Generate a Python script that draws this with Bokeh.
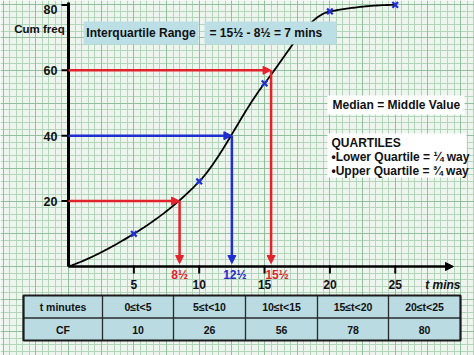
import numpy as np
from bokeh.plotting import figure
from bokeh.models import Grid, SingleIntervalTicker, Arrow, NormalHead
from bokeh.core.properties import value
from bokeh.embed import file_html
from bokeh.resources import INLINE

# ---------------- data ----------------
t_upper = [0, 5, 10, 15, 20, 25]
cum_freq = [0, 10, 26, 56, 78, 80]
classes = ["0≤t<5", "5≤t<10", "10≤t<15", "15≤t<20", "20≤t<25"]
cf_values = [10, 26, 56, 78, 80]
q_cf = [20, 40, 60]
q_t = [8.5, 12.5, 15.5]
q_labels = ["8½", "12½", "15½"]
x_ticks = [5, 10, 15, 20, 25]
y_ticks = [20, 40, 60, 80]

# ---------------- style ----------------
BG = "#eef5ef"
MINOR = "#b3d5ba"
MAJOR = "#92bf9d"
RED = "#e3232b"
BLUE = "#1f2ecf"
BOXBLUE = "#bcdfe5"
TABLEBLUE = "#b9dbe1"
FONT = value("Liberation Sans")

OX, OY = 68.0, 266.0
PX_T, PX_CF = 13.07, 3.27


def tx(px):
    return (px - OX) / PX_T


def cy(py):
    return (OY - py) / PX_CF


W, H = 474, 355
p = figure(width=W, height=H, x_range=(tx(0), tx(W)), y_range=(cy(H), cy(0)),
           output_backend="svg", toolbar_location=None,
           x_axis_location=None, y_axis_location=None, min_border=0,
           background_fill_color=BG, border_fill_color=BG, outline_line_color=None)
p.grid.visible = False

# graph paper
for dim, iv, col, lw in [(0, 0.5, MINOR, 1), (1, 2, MINOR, 1), (0, 2.5, MAJOR, 1), (1, 10, MAJOR, 1)]:
    g = Grid(dimension=dim, ticker=SingleIntervalTicker(interval=iv, num_minor_ticks=0),
             grid_line_color=col, grid_line_width=lw)
    p.add_layout(g)

# ---------------- curve (monotone cubic through the points) ----------------
x = np.array(t_upper, float)
y = np.array(cum_freq, float)
h = np.diff(x)
d = np.diff(y) / h
n = len(x)
m = np.zeros(n)
for k in range(1, n - 1):
    if d[k - 1] * d[k] > 0:
        w1 = 2 * h[k] + h[k - 1]
        w2 = h[k] + 2 * h[k - 1]
        m[k] = (w1 + w2) / (w1 / d[k - 1] + w2 / d[k])


def endslope(h0, h1, d0, d1):
    s = ((2 * h0 + h1) * d0 - h0 * d1) / (h0 + h1)
    if np.sign(s) != np.sign(d0):
        s = 0.0
    elif np.sign(d0) != np.sign(d1) and abs(s) > abs(3 * d0):
        s = 3 * d0
    return s


m[0] = endslope(h[0], h[1], d[0], d[1])
m[-1] = endslope(h[-1], h[-2], d[-1], d[-2])
xs, ys = [], []
for k in range(n - 1):
    tt = np.linspace(0, 1, 40)
    h00 = 2 * tt**3 - 3 * tt**2 + 1
    h10 = tt**3 - 2 * tt**2 + tt
    h01 = -2 * tt**3 + 3 * tt**2
    h11 = tt**3 - tt**2
    xs.extend(x[k] + tt * h[k])
    ys.extend(h00 * y[k] + h10 * h[k] * m[k] + h01 * y[k + 1] + h11 * h[k] * m[k + 1])
p.line(xs, ys, line_color="black", line_width=1.8)

# quartile arrows
for c, t, col in zip(q_cf, q_t, [RED, BLUE, RED]):
    p.add_layout(Arrow(x_start=0, y_start=c, x_end=t, y_end=c, line_color=col, line_width=2.5,
                       end=NormalHead(size=8, fill_color=col, line_color=col)))
    p.add_layout(Arrow(x_start=t, y_start=c, x_end=t, y_end=cy(263), line_color=col, line_width=2.5,
                       end=NormalHead(size=8, fill_color=col, line_color=col)))

# points
p.scatter(t_upper[1:], cum_freq[1:], marker="x", size=8, line_color=BLUE, line_width=2.2)

# ---------------- axes ----------------
p.add_layout(Arrow(x_start=0, y_start=0, x_end=tx(453), y_end=0, line_color="black", line_width=2.5,
                   end=NormalHead(size=8, fill_color="black", line_color="black")))
p.segment(x0=[0], y0=[0], x1=[0], y1=[cy(2)], line_color="black", line_width=3)
p.segment(x0=x_ticks, y0=[cy(265)] * len(x_ticks), x1=x_ticks, y1=[cy(273)] * len(x_ticks),
          line_color="black", line_width=2)
p.segment(x0=[tx(61)] * len(y_ticks), y0=y_ticks, x1=[0] * len(y_ticks), y1=y_ticks,
          line_color="black", line_width=2)
p.text(x=x_ticks, y=[cy(284)] * len(x_ticks), text=[str(v) for v in x_ticks],
       text_font=FONT, text_font_size="12px", text_font_style="bold",
       text_align="center", text_baseline="middle", text_color="#111111")
p.text(x=[tx(57)] * len(y_ticks), y=y_ticks, text=[str(v) for v in y_ticks],
       y_offset=[0.5, 0.5, 0.5, 4.5],
       text_font=FONT, text_font_size="12.5px", text_font_style="bold",
       text_align="right", text_baseline="middle", text_color="#111111")
p.text(x=[tx(39)], y=[cy(28)], text=["Cum freq"], text_font=FONT, text_font_size="11.5px",
       text_font_style="bold", text_align="center", text_baseline="middle", text_color="#111111")
p.text(x=[tx(460)], y=[cy(284)], text=["t mins"], text_font=FONT, text_font_size="12px",
       text_font_style="bold italic", text_align="right", text_baseline="middle", text_color="#111111")
p.text(x=q_t, y=[cy(274)] * 3, text=q_labels, x_offset=[0, 3, 6],
       text_font=FONT, text_font_size="12px", text_font_style="bold",
       text_align="center", text_baseline="middle", text_color=[RED, BLUE, RED])

# ---------------- text boxes ----------------
def box(l, r, t, b, fill):
    p.quad(left=[tx(l)], right=[tx(r)], top=[cy(t)], bottom=[cy(b)], fill_color=fill, line_color=None)


def label(px, py, s, align="left", size="12px"):
    p.text(x=[tx(px)], y=[cy(py)], text=[s], text_font=FONT, text_font_size=size,
           text_font_style="bold", text_align=align, text_baseline="middle", text_color="#111111")


box(83, 198, 21, 44, BOXBLUE)
label(140.5, 32.5, "Interquartile Range", "center")
box(204, 336, 21, 44, BOXBLUE)
label(209, 32.5, "= 15½ - 8½ = 7 mins")
box(327, 464, 95, 114, "white")
label(332, 104.5, "Median = Middle Value")
box(327, 466, 133, 177, "white")
label(331, 142, "QUARTILES")
label(331, 156, "•Lower Quartile = ¼ way")
label(331, 170, "•Upper Quartile = ¾ way")

# ---------------- table ----------------
col_edges = [23, 102, 173, 245, 317, 388, 460]
row_edges = [295, 317.5, 340]
p.quad(left=[tx(col_edges[0])], right=[tx(col_edges[-1])], top=[cy(row_edges[0])],
       bottom=[cy(row_edges[-1])], fill_color=TABLEBLUE, line_color=None)
p.segment(x0=[tx(e) for e in col_edges[1:-1]], y0=[cy(row_edges[0])] * 5,
          x1=[tx(e) for e in col_edges[1:-1]], y1=[cy(row_edges[-1])] * 5,
          line_color="#2a2a2a", line_width=1.3)
p.segment(x0=[tx(col_edges[0])], y0=[cy(row_edges[1])], x1=[tx(col_edges[-1])], y1=[cy(row_edges[1])],
          line_color="#2a2a2a", line_width=1.3)
p.quad(left=[tx(col_edges[0])], right=[tx(col_edges[-1])], top=[cy(row_edges[0])],
       bottom=[cy(row_edges[-1])], fill_color=None, line_color="#1a1a1a", line_width=2.2)
centers = [tx((a + b) / 2) for a, b in zip(col_edges[:-1], col_edges[1:])]
row1 = ["t minutes"] + classes
row2 = ["CF"] + [str(v) for v in cf_values]
p.text(x=centers, y=[cy(306.5)] * 6, text=row1, text_font=FONT, text_font_size="10.5px",
       text_font_style="bold", text_align="center", text_baseline="middle", text_color="#111111")
p.text(x=centers, y=[cy(329)] * 6, text=row2, text_font=FONT, text_font_size="10.5px",
       text_font_style="bold", text_align="center", text_baseline="middle", text_color="#111111")

open("out.html", "w").write(file_html(p, INLINE))
